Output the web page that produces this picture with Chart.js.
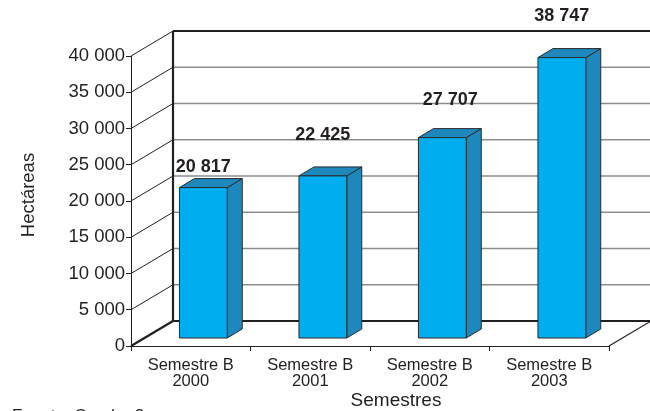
<!DOCTYPE html>
<html>
<head>
<meta charset="utf-8">
<script src="https://cdn.jsdelivr.net/npm/chart.js@4/dist/chart.umd.min.js"></script>
<style>
  html, body { margin:0; padding:0; background:#fff; }
  #wrap { width:650px; height:411px; position:relative; }
</style>
</head>
<body>
<div id="wrap"><canvas id="c"></canvas></div>
<script>
/* ── Data ─────────────────────────────────────────────── */
const CATEGORIES = [["Semestre B","2000"],["Semestre B","2001"],["Semestre B","2002"],["Semestre B","2003"]];
const HECTAREAS  = [20817, 22425, 27707, 38747];
const Y_MIN = 0, Y_MAX = 40000, Y_STEP = 5000;
const Y_TITLE = "Hectáreas";
const X_TITLE = "Semestres";
const SOURCE  = "Fuente: Cuadro 2";

/* ── Look ─────────────────────────────────────────────── */
const FONT     = "'Liberation Sans', Arial, Helvetica, sans-serif";
const INK      = "#231f20";
const FRONT    = "#00aeef";
const SHADE    = "#1e88bd";
const WALL     = { dx: 42, dy: -25 };     // depth of the plot box
const SHIFT    = { dx: 12.6, dy: -7.5 };  // bar front face sits a bit back
const BDEPTH   = { dx: 15, dy: -9 };      // depth of each bar
const LIFT     = [16, 36, 33, 37];        // value label above bar top
const NUDGE    = [0, 0, 8, 0];

const fmt = v => String(v).replace(/\B(?=(\d{3})+(?!\d))/g, " ");

function line(ctx, x1, y1, x2, y2) {
  ctx.beginPath(); ctx.moveTo(x1, y1); ctx.lineTo(x2, y2); ctx.stroke();
}

/* back wall, floor and the diagonals from the front axis */
const box3d = {
  id: "box3d",
  beforeDatasetsDraw(chart) {
    const { ctx, chartArea: a, scales: { y } } = chart;
    ctx.save();
    y.ticks.forEach(t => {
      const py = y.getPixelForValue(t.value);
      ctx.strokeStyle = "#8c8c8c"; ctx.lineWidth = 1.5;
      line(ctx, a.left + WALL.dx, py + WALL.dy, a.right + WALL.dx, py + WALL.dy);
      ctx.strokeStyle = INK; ctx.lineWidth = 1;
      line(ctx, a.left, py, a.left + WALL.dx, py + WALL.dy);
    });
    ctx.strokeStyle = INK; ctx.lineWidth = 2.2;
    line(ctx, a.left + WALL.dx, a.top + WALL.dy, a.right + WALL.dx + 5, a.top + WALL.dy);
    line(ctx, a.left + WALL.dx, a.top + WALL.dy, a.left + WALL.dx, a.bottom + WALL.dy);
    line(ctx, a.left + WALL.dx, a.bottom + WALL.dy, a.right + WALL.dx + 5, a.bottom + WALL.dy);
    line(ctx, a.left, a.bottom, a.left + WALL.dx, a.bottom + WALL.dy);
    ctx.lineWidth = 1.2;
    line(ctx, a.right, a.bottom, a.right + WALL.dx, a.bottom + WALL.dy);
    ctx.restore();
  },
  afterDatasetsDraw(chart) {
    const { ctx } = chart;
    const meta = chart.getDatasetMeta(0);
    ctx.save();
    ctx.strokeStyle = "#2b2b2b"; ctx.lineWidth = 1; ctx.lineJoin = "round";
    meta.data.forEach((bar, i) => {
      const { x, y, base, width } = bar.getProps(["x", "y", "base", "width"], true);
      const x0 = x - width / 2 + SHIFT.dx, x1 = x + width / 2 + SHIFT.dx;
      const yt = y + SHIFT.dy, yb = base + SHIFT.dy;
      // side
      ctx.fillStyle = SHADE;
      ctx.beginPath();
      ctx.moveTo(x1, yt); ctx.lineTo(x1 + BDEPTH.dx, yt + BDEPTH.dy);
      ctx.lineTo(x1 + BDEPTH.dx, yb + BDEPTH.dy); ctx.lineTo(x1, yb); ctx.closePath();
      ctx.fill(); ctx.stroke();
      // top
      ctx.beginPath();
      ctx.moveTo(x0, yt); ctx.lineTo(x0 + BDEPTH.dx, yt + BDEPTH.dy);
      ctx.lineTo(x1 + BDEPTH.dx, yt + BDEPTH.dy); ctx.lineTo(x1, yt); ctx.closePath();
      ctx.fill(); ctx.stroke();
      // front
      ctx.fillStyle = FRONT;
      ctx.fillRect(x0, yt, x1 - x0, yb - yt);
      ctx.strokeRect(x0, yt, x1 - x0, yb - yt);
      // value
      ctx.fillStyle = INK;
      ctx.font = `bold 18px ${FONT}`;
      ctx.textAlign = "center"; ctx.textBaseline = "alphabetic";
      ctx.fillText(fmt(HECTAREAS[i]), (x0 + x1) / 2 + NUDGE[i], yt - LIFT[i]);
    });
    ctx.restore();
  },
  afterDraw(chart) {
    const { ctx } = chart;
    ctx.save();
    ctx.fillStyle = INK;
    ctx.textAlign = "center"; ctx.textBaseline = "alphabetic";
    ctx.font = `19px ${FONT}`;
    ctx.fillText(X_TITLE, 396, 406);
    ctx.save();
    ctx.translate(34, 195); ctx.rotate(-Math.PI / 2);
    ctx.font = `18.5px ${FONT}`;
    ctx.fillText(Y_TITLE, 0, 0);
    ctx.restore();
    ctx.textAlign = "left";
    ctx.font = `17px ${FONT}`;
    ctx.fillText(SOURCE, 12, 421);
    ctx.restore();
  }
};

new Chart(document.getElementById("c"), {
  type: "bar",
  data: {
    labels: CATEGORIES,
    datasets: [{
      data: HECTAREAS,
      backgroundColor: "rgba(0,0,0,0)", borderWidth: 0,
      barPercentage: 0.4, categoryPercentage: 1,
    }],
  },
  plugins: [box3d],
  options: {
    responsive: true, maintainAspectRatio: false, animation: false, events: [],
    layout: { padding: { top: 56, right: 41, left: 0, bottom: 0 } },
    plugins: { legend: { display: false }, tooltip: { enabled: false } },
    scales: {
      x: {
        afterFit: s => { s.height = 65; },
        grid: { drawOnChartArea: false, drawTicks: true, tickLength: 5, color: INK, offset: true },
        border: { display: true, color: INK, width: 1 },
        ticks: { color: INK, padding: 6, font: { family: FONT, size: 16.5, lineHeight: 1 }, maxRotation: 0 },
      },
      y: {
        min: Y_MIN, max: Y_MAX,
        afterFit: s => { s.width = 131; },
        grid: { drawOnChartArea: false, drawTicks: true, tickLength: 5, color: INK },
        border: { display: true, color: INK, width: 1 },
        ticks: { stepSize: Y_STEP, color: INK, padding: 1, font: { family: FONT, size: 18.5 }, callback: v => fmt(v) },
      },
    },
  },
});
</script>
</body>
</html>
